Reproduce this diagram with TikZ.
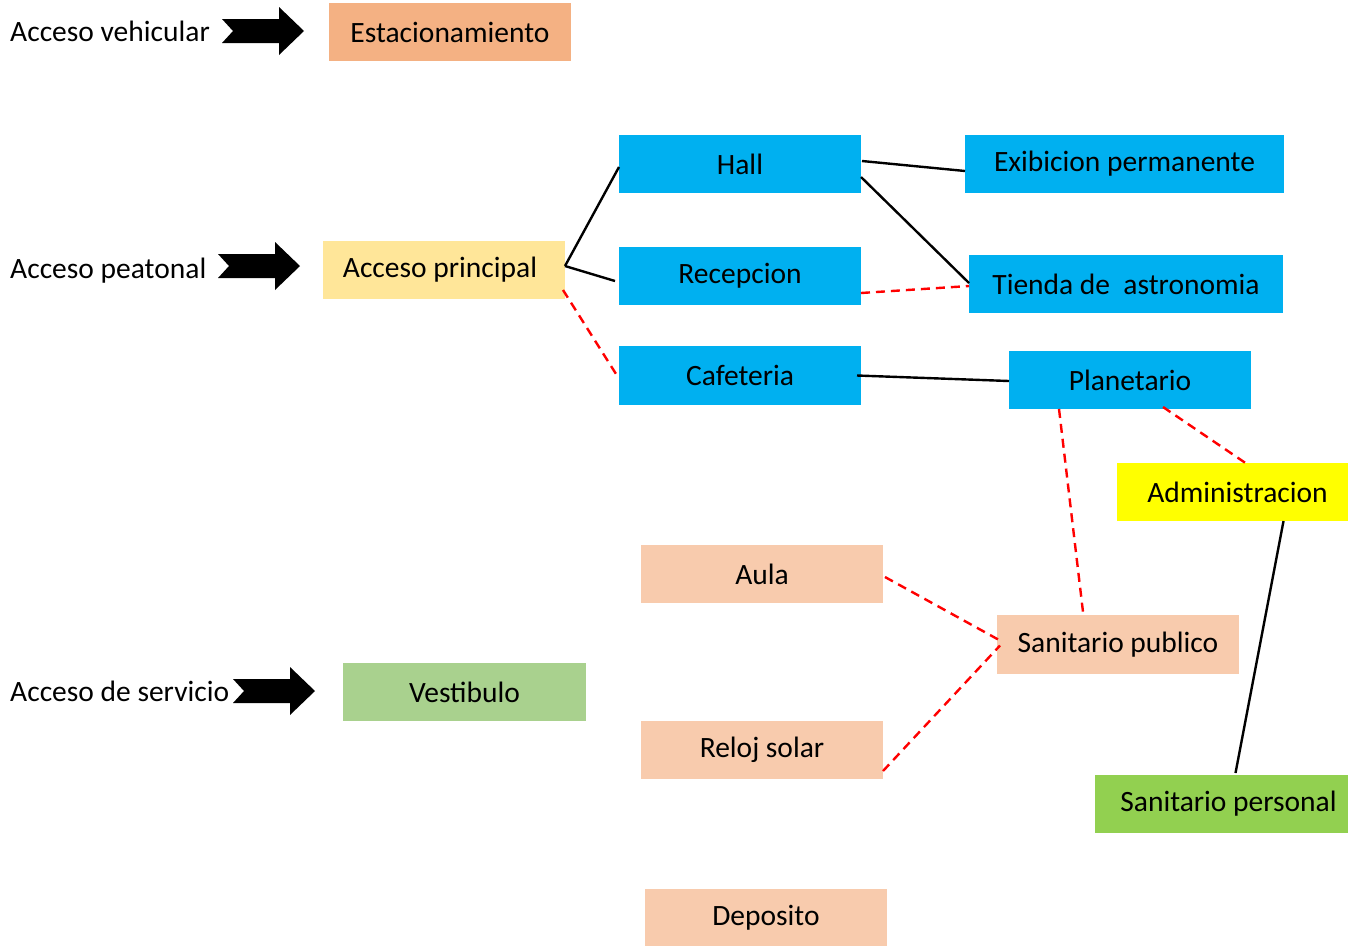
\documentclass[tikz,border=0pt]{standalone}
\usepackage{fontspec}
\setmainfont{Carlito}
\definecolor{cblue}{HTML}{00B0F0}
\definecolor{corange}{HTML}{F4B183}
\definecolor{cpeach}{HTML}{F8CBAD}
\definecolor{cyel}{HTML}{FFE699}
\definecolor{cyellow}{HTML}{FFFF00}
\definecolor{cgreenl}{HTML}{A9D18E}
\definecolor{cgreen}{HTML}{92D050}
\definecolor{cred}{HTML}{FF0000}
\tikzset{
  box/.style={inner sep=0pt, outer sep=0pt, font=\fontsize{29.5}{35}\selectfont},
  lbl/.style={anchor=west, inner sep=0pt, font=\fontsize{29.5}{35}\selectfont},
  solidlink/.style={draw=black, line width=2.4pt},
  dashlink/.style={draw=cred, line width=2.4pt, dash pattern=on 9pt off 6pt},
  pics/barrow/.style={code={
    \fill[black] (0,-12) -- (11,0) -- (0,12) -- (57,12) -- (57,24) -- (82,0) -- (57,-24) -- (57,-12) -- cycle;
  }}
}
\newcommand{\bx}[7]{\path[fill=#6] (#2,#3) rectangle (#4,#5);
  \node[box] (#1) at ({(#2+#4)/2},{(#3+#5)/2}) [minimum width={#4-#2}, minimum height={#5-#3}] {#7};}
\begin{document}
\begin{tikzpicture}[x=1pt,y=-1pt]
\useasboundingbox (0,0) rectangle (1348,946);
% labels
\node[lbl] (lv) at (10,31) {Acceso vehicular};
\node[lbl] (lp) at (10,271) {Acceso peatonal};
\node[lbl] (ls) at (10,691) {Acceso de servicio};
% block arrows
\pic at (222,31) {barrow};
\pic at (218,266) {barrow};
\pic at (233,691) {barrow};
% boxes
\bx{est}{329}{3}{571}{61}{corange}{Estacionamiento}
\bx{hall}{619}{135}{861}{193}{cblue}{Hall}
\bx{exi}{965}{135}{1284}{193}{cblue}{Exibicion permanente}
\bx{rec}{619}{247}{861}{305}{cblue}{Recepcion}
\bx{tie}{969}{255}{1283}{313}{cblue}{Tienda de\ \ astronomia}
\bx{caf}{619}{346}{861}{405}{cblue}{Cafeteria}
\bx{pla}{1009}{351}{1251}{409}{cblue}{Planetario}
\bx{acc}{323}{241}{565}{299}{cyel}{\hspace*{-8pt}Acceso principal}
\bx{adm}{1117}{463}{1348}{521}{cyellow}{\hspace*{10pt}Administracion}
\bx{aula}{641}{545}{883}{603}{cpeach}{Aula}
\bx{sp}{997}{615}{1239}{674}{cpeach}{Sanitario publico}
\bx{ves}{343}{663}{586}{721}{cgreenl}{Vestibulo}
\bx{rel}{641}{721}{883}{779}{cpeach}{Reloj solar}
\bx{spe}{1095}{775}{1348}{833}{cgreen}{\hspace*{14pt}Sanitario personal}
\bx{dep}{645}{889}{887}{946}{cpeach}{Deposito}
% connectors
\draw[solidlink] ([yshift=4pt]acc.east) -- ([yshift=-3pt]hall.west);
\draw[solidlink] ([yshift=4pt]acc.east) -- ([xshift=-4pt,yshift=-5pt]rec.west);
\draw[dashlink] ([xshift=-2pt,yshift=-20pt]acc.east) -- ([xshift=-2pt,yshift=-0pt]caf.west);
\draw[solidlink] ([xshift=1pt,yshift=3pt]hall.east) -- ([yshift=-7pt]exi.west);
\draw[solidlink] ([yshift=-13pt]hall.east) -- ([yshift=1pt]tie.west);
\draw[dashlink] ([yshift=-17pt]rec.east) -- ([yshift=-2pt]tie.west);
\draw[solidlink] ([xshift=-4pt,yshift=0pt]caf.east) -- ([yshift=-1pt]pla.west);
\draw[dashlink] ([xshift=-71pt]pla.south) -- ([xshift=-35pt,yshift=3pt]sp.north);
\draw[dashlink] ([xshift=33pt,yshift=2pt]pla.south) -- ([xshift=13pt]adm.north);
\draw[solidlink] ([xshift=51pt]adm.south) -- ([xshift=14pt,yshift=2pt]spe.north);
\draw[dashlink] ([xshift=2pt,yshift=-3pt]aula.east) -- ([xshift=3pt,yshift=4pt]sp.west);
\draw[dashlink] ([yshift=-21pt]rel.east) -- ([xshift=3pt,yshift=-1pt]sp.west);
\end{tikzpicture}
\end{document}
